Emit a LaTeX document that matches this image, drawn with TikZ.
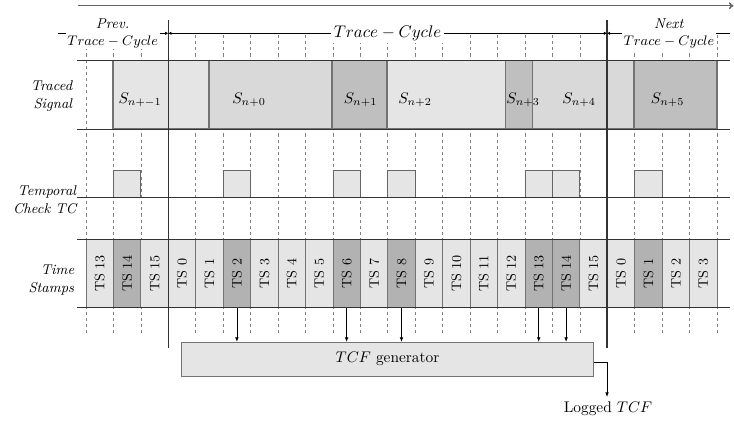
\documentclass[tikz,border=0pt]{standalone}
\usetikzlibrary{arrows.meta}
\definecolor{lightc}{gray}{0.9}
\definecolor{midc}{gray}{0.85}
\definecolor{darkc}{gray}{0.75}
\definecolor{tsdark}{gray}{0.70}
\begin{document}
\begin{tikzpicture}[x=0.65pt,y=-0.65pt,
  grid/.style={black!50, line width=0.4pt, dash pattern=on 2pt off 2pt},
  rowline/.style={black!80, line width=0.6pt},
  cycleline/.style={black!80, line width=0.9pt},
  seg/.style={draw=black!55, line width=0.7pt},
  pulse/.style={draw=black!60, line width=0.5pt, fill=lightc},
  tscell/.style={draw=black!55, line width=0.5pt, rotate=90, minimum width=44.66pt,
    minimum height=17.83pt, inner sep=0pt, font=\fontsize{8.9}{10}\selectfont},
  rowlabel/.style={align=right, anchor=east, inner sep=0pt,
    font=\fontsize{9.2}{11.5}\selectfont\itshape},
  cyclab/.style={fill=white, inner sep=1pt, align=center,
    font=\fontsize{9.3}{11}\selectfont},
  dimtip/.style={line width=0.5pt},
  feed/.style={-{Latex[length=3pt,width=2.4pt]}, black, line width=0.5pt},
  mark/.tip={Latex[length=2pt,width=2.2pt]},
]
\useasboundingbox (0,0) rectangle (734,423);

% dashed time grid, one line per time-stamp slot
\foreach \i in {0,...,23}
  \draw[grid] ({86+27.435*\i},35) -- ({86+27.435*\i},335);

% traced signal segments
\foreach \a/\b/\c in {113/209/lightc, 209/332/midc, 332/387/darkc, 387/505.7/lightc,
                      505.7/532.7/darkc, 532.7/634/midc, 634/717/darkc}
  \draw[seg, fill=\c] (\a,60.7) rectangle (\b,129);

\node (s0) at (140,100)   {$S_{n+-1}$};
\node (s1) at (249,100)   {$S_{n+0}$};
\node (s2) at (360.5,100) {$S_{n+1}$};
\node (s3) at (415,100)   {$S_{n+2}$};
\node (s4) at (523,100)   {$S_{n+3}$};
\node (s5) at (579,100)   {$S_{n+4}$};
\node (s6) at (667.5,100) {$S_{n+5}$};

% temporal check pulses
\foreach \i in {1,5,9,11,16,17,20}
  \draw[pulse] ({86+27.435*\i},197.7) rectangle ({86+27.435*(\i+1)},170.7);

% time stamp cells
\foreach \t/\c [count=\i from 0] in {13/lightc,14/tsdark,15/lightc,
    0/lightc,1/lightc,2/tsdark,3/lightc,4/lightc,5/lightc,6/tsdark,7/lightc,
    8/tsdark,9/lightc,10/lightc,11/lightc,12/lightc,13/tsdark,14/tsdark,15/lightc,
    0/lightc,1/tsdark,2/lightc,3/lightc}
  \node[tscell, fill=\c] (ts\i) at ({86+27.435*(\i+0.5)},273.35) {TS \t};

% row borders
\draw[rowline] (77,60.7) -- (730,60.7);
\draw[rowline] (77,129) -- (730,129);
\draw[rowline] (77,197.7) -- (730,197.7);
\draw[rowline] (77,239) -- (730,239);
\draw[rowline] (77,307.7) -- (730,307.7);

% row titles
\node[rowlabel] (lsig) at (72.5,96)  {Traced\\Signal};
\node[rowlabel] (ltc)  at (76.5,200) {Temporal\\Check TC};
\node[rowlabel] (lts)  at (74.5,280) {Time\\Stamps};

% time axis
\coordinate (tstart) at (77.7,5.7);
\coordinate (tend) at (733.5,5.7);
\draw[black!60, line width=1pt, -{To[length=3pt,width=4.5pt]}] (tstart) -- (tend);

% trace-cycle boundaries
\coordinate (b0top) at (168.3,20);
\coordinate (b0bot) at (168.3,348);
\coordinate (b1top) at (607,20);
\coordinate (b1bot) at (607,348);
\draw[cycleline] (b0top) -- (b0bot);
\draw[cycleline] (b1top) -- (b1bot);

% trace-cycle extent markers
\coordinate (dA) at (58,33.3);
\coordinate (dB) at (168.3,33.3);
\coordinate (dC) at (607,33.3);
\coordinate (dD) at (730,33.3);
\draw[dimtip, -mark] (dA) -- (dB);
\draw[dimtip, mark-mark] (dB) -- (dC);
\draw[dimtip, mark-] (dC) -- (dD);

\node[cyclab] (prev) at (112.7,33) {\textit{Prev.}\\$Trace-Cycle$};
\node[cyclab] (next) at (669,33.5) {\textit{Next}\\$Trace-Cycle$};
\node[fill=white, inner sep=1.5pt, font=\fontsize{11}{13}\selectfont] (cur) at (387.5,33) {$Trace-Cycle$};

% TCF generator and its inputs
\node[draw=black!55, line width=0.5pt, fill=lightc, minimum width=267.5pt,
      minimum height=21.9pt, inner sep=0pt] (gen) at (387.5,359.15) {$TCF$ generator};
\foreach \i in {5,9,11,16,17}
  \draw[feed] (ts\i.west) -- (ts\i.west |- gen.north);

\coordinate (logout) at (607,397);
\draw[feed] ([yshift=-1.85pt]gen.east) -| (logout);
\node (logged) at (608,408.5) {Logged $TCF$};
\end{tikzpicture}
\end{document}
